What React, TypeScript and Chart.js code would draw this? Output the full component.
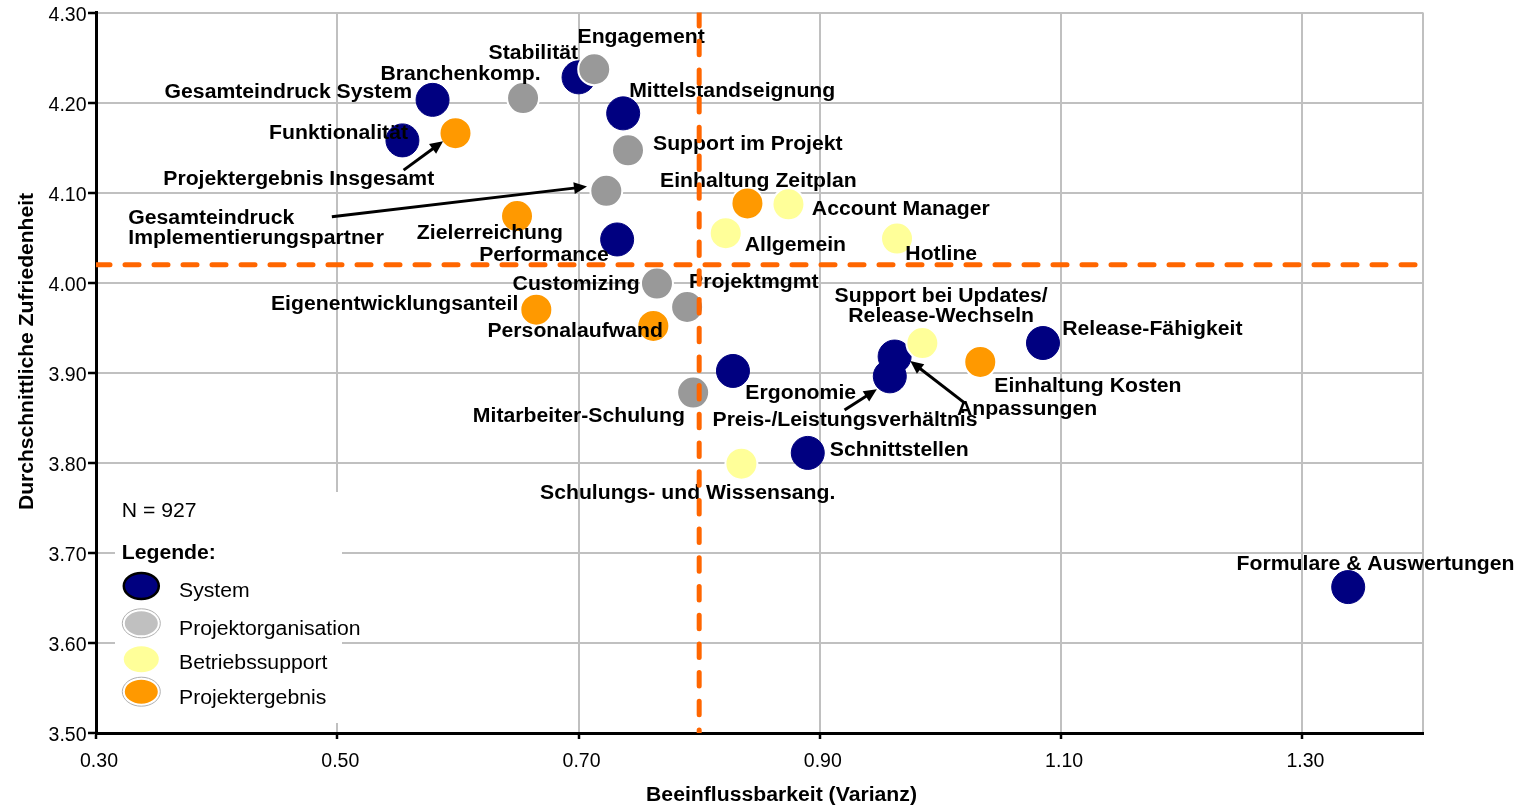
import React, { useEffect, useRef } from "react";
import { Chart, registerables } from "chart.js";

Chart.register(...registerables);

// ---------- data ----------
const seriesNames = ["System", "Projektorganisation", "Betriebssupport", "Projektergebnis"];

const systemNames = [
  "Gesamteindruck System", "Funktionalität", "Stabilität", "Mittelstandseignung", "Performance",
  "Ergonomie", "Anpassungen", "Preis-/Leistungsverhältnis", "Release-Fähigkeit", "Schnittstellen",
  "Formulare & Auswertungen",
];
const systemX = [0.579, 0.554, 0.700, 0.737, 0.732, 0.828, 0.962, 0.958, 1.085, 0.890, 1.338];
const systemY = [4.203, 4.158, 4.228, 4.188, 4.048, 3.902, 3.918, 3.896, 3.933, 3.811, 3.662];

const orgNames = [
  "Engagement", "Branchenkomp.", "Support im Projekt", "Gesamteindruck\nImplementierungspartner",
  "Customizing", "Projektmgmt", "Mitarbeiter-Schulung",
];
const orgX = [0.713, 0.654, 0.741, 0.723, 0.765, 0.790, 0.795];
const orgY = [4.237, 4.205, 4.147, 4.102, 3.999, 3.973, 3.878];

const supportNames = [
  "Account Manager", "Allgemein", "Hotline", "Support bei Updates/\nRelease-Wechseln", "Schulungs- und Wissensang.",
];
const supportX = [0.874, 0.822, 0.964, 0.985, 0.835];
const supportY = [4.087, 4.055, 4.049, 3.933, 3.799];

const resultNames = [
  "Projektergebnis Insgesamt", "Zielerreichung", "Eigenentwicklungsanteil", "Personalaufwand",
  "Einhaltung Zeitplan", "Einhaltung Kosten",
];
const resultX = [0.598, 0.649, 0.665, 0.762, 0.840, 1.033];
const resultY = [4.166, 4.074, 3.970, 3.952, 4.088, 3.912];

const sampleSize = 927;
const thresholdX = 0.80;
const thresholdY = 4.02;

const xTicks = [0.3, 0.5, 0.7, 0.9, 1.1, 1.3];
const xMin = 0.3;
const xMax = 1.4;
const yTicks = [3.5, 3.6, 3.7, 3.8, 3.9, 4.0, 4.1, 4.2, 4.3];
const yMin = 3.5;
const yMax = 4.3;

const xTitle = "Beeinflussbarkeit (Varianz)";
const yTitle = "Durchschnittliche Zufriedenheit";

// arrows: [fromX, fromY, toX, toY] in data units
const arrows = [
  [0.555, 4.125, 0.5877, 4.157],
  [0.4955, 4.0733, 0.707, 4.1067],
  [0.9205, 3.8586, 0.9473, 3.8816],
  [1.0205, 3.866, 0.975, 3.913],
];

// ---------- label placement (pixel offsets from the point) ----------
type Lab = [string, number, number]; // align, dx, dy
const systemLabelPos: Lab[] = [
  ["right", -20.6, -1.7], ["right", 5.6, -1.4], ["right", -0.5, -18], ["left", 6, -16],
  ["right", -8.4, 21.7], ["left", 12.4, 27.6], ["left", 62.4, 58.3], ["left", -177.3, 50],
  ["left", 19.2, -8.3], ["left", 22, 3.3], ["left", -111.6, -16.6],
];
const orgLabelPos: Lab[] = [
  ["left", -16.7, -26.3], ["right", 17.6, -17.6], ["left", 25, -0.7], ["left", -478, 33.6],
  ["right", -17.2, 6], ["left", 1.9, -19.4], ["right", -8.3, 29.3],
];
const supportLabelPos: Lab[] = [
  ["left", 23.4, 10.7], ["left", 19, 17.7], ["left", 8.3, 21.7], ["center", 18.8, -40.6], ["center", -53.7, 35],
];
const resultLabelPos: Lab[] = [
  ["right", -21.3, 51.7], ["right", 45.9, 23.3], ["right", -18, 0], ["right", 9.6, 11],
  ["left", -87.4, -16.6], ["left", 14, 30.5],
];

// ---------- styles ----------
const FAMILY = '"Liberation Sans", Arial, sans-serif';
const FS = 19.5;
const SX = 1.087;
const BOLD = `bold ${FS}px ${FAMILY}`;
const NORMAL = `${FS}px ${FAMILY}`;

const colors = ["#000080", "#999999", "#ffff99", "#ff9900"];
const legendColors = ["#000080", "#c0c0c0", "#ffff99", "#ff9900"];

function pts(xs: number[], ys: number[]) {
  return xs.map((x, i) => ({ x, y: ys[i] }));
}

function txt(ctx: CanvasRenderingContext2D, s: string, x: number, y: number, align: CanvasTextAlign, font: string) {
  ctx.save();
  ctx.translate(x, y);
  ctx.scale(SX, 1);
  ctx.font = font;
  ctx.textAlign = align;
  ctx.textBaseline = "alphabetic";
  ctx.fillStyle = "#000";
  ctx.fillText(s, 0, 0);
  ctx.restore();
}

const allNames = [systemNames, orgNames, supportNames, resultNames];
const allX = [systemX, orgX, supportX, resultX];
const allY = [systemY, orgY, supportY, resultY];
const allPos = [systemLabelPos, orgLabelPos, supportLabelPos, resultLabelPos];

const annotatePlugin = {
  id: "annotate",
  beforeDatasetsDraw(chart: any) {
    const ctx = chart.ctx as CanvasRenderingContext2D;
    // legend box
    ctx.save();
    ctx.fillStyle = "#ffffff";
    ctx.fillRect(115, 492, 227, 231);
    ctx.restore();
    txt(ctx, `N = ${sampleSize}`, 121.7, 517.3, "left", NORMAL);
    txt(ctx, "Legende:", 121.7, 559.3, "left", BOLD);
    const cy = [586, 623.3, 659.3, 691.7];
    const ty = [596.7, 635, 669.3, 704];
    seriesNames.forEach((name, i) => {
      const cx = 141.3;
      ctx.save();
      ctx.beginPath();
      ctx.ellipse(cx, cy[i], 17.5, 13, 0, 0, Math.PI * 2);
      ctx.fillStyle = legendColors[i];
      ctx.fill();
      if (i === 0) {
        ctx.lineWidth = 2.5;
        ctx.strokeStyle = "#000";
        ctx.stroke();
      } else if (i === 1 || i === 3) {
        ctx.lineWidth = 2;
        ctx.strokeStyle = "#fff";
        ctx.stroke();
        ctx.beginPath();
        ctx.ellipse(cx, cy[i], 19, 14.5, 0, 0, Math.PI * 2);
        ctx.lineWidth = 1;
        ctx.strokeStyle = "#b0b0b0";
        ctx.stroke();
      }
      ctx.restore();
      txt(ctx, name, 179, ty[i], "left", NORMAL);
    });
  },
  afterDatasetDraw(chart: any, args: any) {
    if (args.index !== 3) return;
    const ctx = chart.ctx as CanvasRenderingContext2D;
    const xs = chart.scales.x;
    const ys = chart.scales.y;
    for (let s = 0; s < 4; s++) {
      allNames[s].forEach((name, j) => {
        const px = xs.getPixelForValue(allX[s][j]);
        const py = ys.getPixelForValue(allY[s][j]);
        const [align, dx, dy] = allPos[s][j];
        name.split("\n").forEach((line, k) => {
          txt(ctx, line, px + dx, py + dy + k * 20, align as CanvasTextAlign, BOLD);
        });
      });
    }
    // arrows
    ctx.save();
    ctx.strokeStyle = "#000";
    ctx.fillStyle = "#000";
    ctx.lineWidth = 3;
    arrows.forEach(([x1, y1, x2, y2]) => {
      const ax = xs.getPixelForValue(x1), ay = ys.getPixelForValue(y1);
      const bx = xs.getPixelForValue(x2), by = ys.getPixelForValue(y2);
      const ang = Math.atan2(by - ay, bx - ax);
      const hl = 13, hw = 6;
      const ex = bx - hl * Math.cos(ang), ey = by - hl * Math.sin(ang);
      ctx.beginPath();
      ctx.moveTo(ax, ay);
      ctx.lineTo(ex + 2 * Math.cos(ang), ey + 2 * Math.sin(ang));
      ctx.stroke();
      ctx.beginPath();
      ctx.moveTo(bx, by);
      ctx.lineTo(ex + hw * Math.sin(ang), ey - hw * Math.cos(ang));
      ctx.lineTo(ex - hw * Math.sin(ang), ey + hw * Math.cos(ang));
      ctx.closePath();
      ctx.fill();
    });
    ctx.restore();
  },
  afterDraw(chart: any) {
    const ctx = chart.ctx as CanvasRenderingContext2D;
    txt(ctx, xTitle, 781.5, 801, "center", BOLD);
    ctx.save();
    ctx.translate(33, 351.5);
    ctx.rotate(-Math.PI / 2);
    ctx.scale(1.08, 1);
    ctx.font = BOLD;
    ctx.textAlign = "center";
    ctx.textBaseline = "alphabetic";
    ctx.fillStyle = "#000";
    ctx.fillText(yTitle, 0, 0);
    ctx.restore();
  },
};

export default function App() {
  const ref = useRef<HTMLCanvasElement | null>(null);
  useEffect(() => {
    if (!ref.current) return;
    const pointDs = (i: number, xs: number[], ys: number[], order: number) => ({
      label: seriesNames[i],
      data: pts(xs, ys),
      pointRadius: i === 0 ? 16.5 : 16,
      pointBackgroundColor: colors[i],
      pointBorderColor: i === 0 ? colors[0] : "#ffffff",
      pointBorderWidth: i === 0 ? 1 : 2,
      showLine: false,
      order,
    });
    const dashDs = (data: { x: number; y: number }[], dash: number[]) => ({
      label: "",
      data,
      showLine: true,
      borderColor: "#ff6600",
      borderWidth: 5,
      borderDash: dash,
      borderCapStyle: "round",
      pointRadius: 0,
      order: 0,
    });
    const chart = new Chart(ref.current, {
      type: "scatter",
      data: {
        datasets: [
          pointDs(0, systemX, systemY, 4),
          pointDs(1, orgX, orgY, 3),
          pointDs(2, supportX, supportY, 2),
          pointDs(3, resultX, resultY, 1),
          dashDs([{ x: thresholdX, y: yMax }, { x: thresholdX, y: yMin }], [13.5, 15.2]),
          dashDs([{ x: xMin, y: thresholdY }, { x: xMax, y: thresholdY }], [14, 15]),
        ] as any,
      },
      options: {
        animation: false,
        responsive: false,
        devicePixelRatio: 1,
        events: [],
        layout: { autoPadding: false, padding: { top: 12.5, right: 107, bottom: 0, left: 0 } },
        plugins: { legend: { display: false }, tooltip: { enabled: false }, title: { display: false } },
        scales: {
          x: {
            type: "linear",
            min: xMin,
            max: xMax,
            afterBuildTicks: (scale: any) => {
              scale.ticks = [...xTicks, xMax].map((v) => ({ value: v }));
            },
            afterFit: (scale: any) => {
              scale.height = 73;
            },
            grid: {
              color: "#c0c0c0",
              lineWidth: 2,
              tickLength: 6,
              tickWidth: 2.5,
              tickColor: (c: any) => (c.tick && Math.abs(c.tick.value - xMax) < 1e-9 ? "rgba(0,0,0,0)" : "#000"),
            },
            border: { color: "#000", width: 3 },
            ticks: {
              color: "#000",
              font: { family: FAMILY, size: FS, lineHeight: 1 },
              padding: 13,
              labelOffset: 3,
              maxRotation: 0,
              autoSkip: false,
              callback: (v: any) => (xTicks.some((t) => Math.abs(t - v) < 1e-9) ? Number(v).toFixed(2) : ""),
            },
          },
          y: {
            type: "linear",
            min: yMin,
            max: yMax,
            afterBuildTicks: (scale: any) => {
              scale.ticks = yTicks.map((v) => ({ value: v }));
            },
            afterFit: (scale: any) => {
              scale.width = 96;
            },
            grid: { color: "#c0c0c0", lineWidth: 2, tickLength: 8, tickWidth: 2.5, tickColor: "#000" },
            border: { color: "#000", width: 3 },
            ticks: {
              color: "#000",
              font: { family: FAMILY, size: FS, lineHeight: 1 },
              padding: 1.5,
              labelOffset: 3,
              autoSkip: false,
              callback: (v: any) => Number(v).toFixed(2),
            },
          },
        },
      } as any,
      plugins: [annotatePlugin],
    });
    return () => chart.destroy();
  }, []);
  return (
    <div style={{ position: "absolute", left: 0, top: 0, width: 1530, height: 806, background: "#fff" }}>
      <canvas ref={ref} width={1530} height={806} style={{ display: "block", width: 1530, height: 806 }} />
    </div>
  );
}
